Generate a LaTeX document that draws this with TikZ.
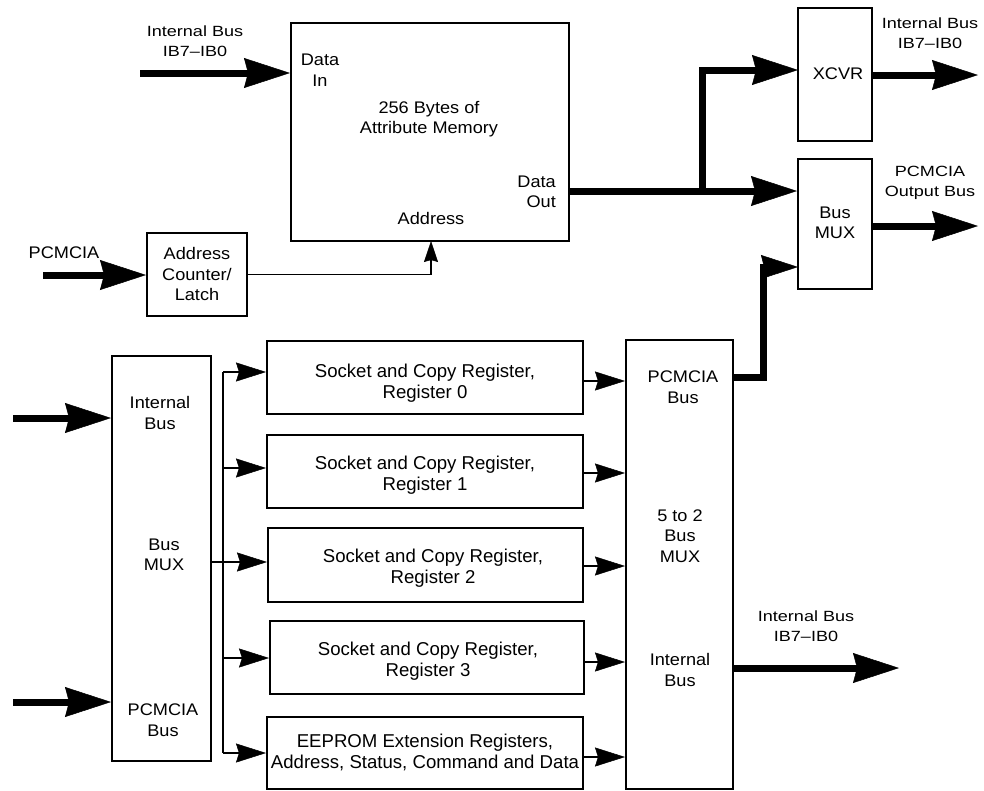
\documentclass[tikz,border=0pt]{standalone}
\usepackage{fontspec}
\setmainfont{Liberation Sans}
\newfontfamily\regf{Liberation Sans}[Ligatures=TeX]
\newfontfamily\boxf{Liberation Sans}[Ligatures=TeX,FakeStretch=1.08]
\newfontfamily\labf{Liberation Sans}[Ligatures=TeX,FakeStretch=1.22]
\usetikzlibrary{arrows.meta}
\tikzset{
  blk/.style={draw, line width=2pt, inner sep=0pt},
  regtext/.style={font=\regf\fontsize{18.6}{21}\selectfont, align=center, inner sep=0pt},
  boxtext/.style={font=\boxf\fontsize{16.8}{20.5}\selectfont, align=center, inner sep=0pt},
  labtext/.style={font=\labf\fontsize{14.8}{20}\selectfont, align=center, inner sep=0pt},
  bus/.style={line width=7pt, miter limit=10, -{Stealth[length=46pt,width=30pt,inset=4pt,line width=0.5pt]}},
  busS/.style={line width=7pt, miter limit=10, -{Stealth[length=37pt,width=24pt,inset=3pt,line width=0.5pt]}},
  thinarr/.style={line width=1.5pt, -{Stealth[length=30pt,width=19pt,inset=3pt,line width=0.5pt]}},
  upArr/.style={line width=1.5pt, -{Stealth[length=21pt,width=14pt,inset=2pt,line width=0.5pt]}},
  thin/.style={line width=1.5pt}
}
\begin{document}
\begin{tikzpicture}[x=1pt,y=-1pt]
\useasboundingbox (0,0) rectangle (984,790);
% boxes
\node[blk, minimum width=278pt, minimum height=218pt] (mem) at (430,132) {};
\node[blk, minimum width=74pt, minimum height=133pt] (xcvr) at (835,74.5) {};
\node[blk, minimum width=74pt, minimum height=130pt] (bmux) at (835,224) {};
\node[blk, minimum width=100pt, minimum height=83pt] (addr) at (197,274.5) {};
\node[blk, minimum width=99pt, minimum height=405pt] (lmux) at (161.5,558.5) {};
\node[blk, minimum width=316pt, minimum height=73pt] (r0) at (425,377.5) {};
\node[blk, minimum width=316pt, minimum height=73pt] (r1) at (425,471.5) {};
\node[blk, minimum width=315pt, minimum height=74pt] (r2) at (425.5,565) {};
\node[blk, minimum width=314pt, minimum height=73pt] (r3) at (427,657.5) {};
\node[blk, minimum width=316pt, minimum height=72pt] (ee) at (425,753) {};
\node[blk, minimum width=107pt, minimum height=449pt] (m52) at (679.5,564.5) {};
% texts in boxes
\node[boxtext] (tdin) at (320,70) {Data\\In};
\node[boxtext] (tmem) at (429,119) {256 Bytes of\\Attribute Memory};
\node[boxtext, align=right, anchor=east] (tdout) at (556,192) {Data\\\,Out};
\node[boxtext] (taddr) at (431,218) {Address};
\node[boxtext] (txcvr) at (838,74) {XCVR};
\node[boxtext] (tbmux) at (835,223) {Bus\\MUX};
\node[boxtext] (tacl) at (197,274) {Address\\Counter/\\Latch};
\node[boxtext] (tlib) at (160,413) {Internal\\Bus};
\node[boxtext] (tlbm) at (164,555) {Bus\\MUX};
\node[boxtext] (tlpb) at (163,720) {PCMCIA\\Bus};
\node[regtext] (tr0) at (425,383) {Socket and Copy Register,\\Register 0};
\node[regtext] (tr1) at (425,475) {Socket and Copy Register,\\Register 1};
\node[regtext] (tr2) at (433,568) {Socket and Copy Register,\\Register 2};
\node[regtext] (tr3) at (428,661) {Socket and Copy Register,\\Register 3};
\node[regtext] (tee) at (425,752) {EEPROM Extension Registers,\\Address, Status, Command and Data};
\node[boxtext] (tmpb) at (683,387) {PCMCIA\\Bus};
\node[boxtext] (tm52) at (680,536) {5 to 2\\Bus\\MUX};
\node[boxtext] (tmib) at (680,670) {Internal\\Bus};
% outside labels
\node[labtext] (lib1) at (195,41) {Internal Bus\\IB7–IB0};
\node[labtext] (lib2) at (930,33) {Internal Bus\\IB7–IB0};
\node[labtext] (lpob) at (930,183) {PCMCIA\\Output Bus};
\node[boxtext] (lpc) at (64,253) {PCMCIA};
\node[labtext] (lib3) at (806,626) {Internal Bus\\IB7–IB0};
% coordinates
\coordinate (ibin) at (140,73);
\coordinate (dout) at (569,191);
\coordinate (br) at (702,191);
\coordinate (xin) at (798,70);
\coordinate (xo) at (978,75);
\coordinate (bo) at (978,226);
\coordinate (pcin) at (43,275);
\coordinate (ad) at (431,241);
\coordinate (li1) at (13,418);
\coordinate (li2) at (13,702);
\coordinate (bv) at (223,562);
\coordinate (t0) at (223,372);
\coordinate (t1) at (223,468);
\coordinate (t2) at (223,562);
\coordinate (t3) at (223,658);
\coordinate (t4) at (223,753);
\coordinate (o0) at (583,381);
\coordinate (o1) at (583,473);
\coordinate (o2) at (583,566);
\coordinate (o3) at (583,662);
\coordinate (o4) at (583,757);
\coordinate (pc) at (763,377);
\coordinate (pi) at (798,267);
\coordinate (mo) at (899,668);
% connectors
\draw[bus] (ibin) -- (ibin -| mem.west);
\draw[bus] (dout) -- (dout -| bmux.west);
\draw[bus] (br) |- (xin);
\draw[bus] (xcvr.east |- xo) -- (xo);
\draw[bus] (bmux.east |- bo) -- (bo);
\draw[bus] (pcin) -- (pcin -| addr.west);
\draw[upArr] (addr.east) -| (ad);
\draw[bus] (li1) -- (li1 -| lmux.west);
\draw[bus] (li2) -- (li2 -| lmux.west);
\draw[thin] (lmux.east |- bv) -- (bv);
\draw[thin] (t0) -- (t4);
\draw[thinarr] (t0) -- (t0 -| r0.west);
\draw[thinarr] (t1) -- (t1 -| r1.west);
\draw[thinarr] (t2) -- (t2 -| r2.west);
\draw[thinarr] (t3) -- (t3 -| r3.west);
\draw[thinarr] (t4) -- (t4 -| ee.west);
\draw[thinarr] (o0) -- (o0 -| m52.west);
\draw[thinarr] (o1) -- (o1 -| m52.west);
\draw[thinarr] (o2) -- (o2 -| m52.west);
\draw[thinarr] (o3) -- (o3 -| m52.west);
\draw[thinarr] (o4) -- (o4 -| m52.west);
\draw[busS] (m52.east |- pc) -- (pc) |- (pi);
\draw[bus] (m52.east |- mo) -- (mo);
\end{tikzpicture}
\end{document}
